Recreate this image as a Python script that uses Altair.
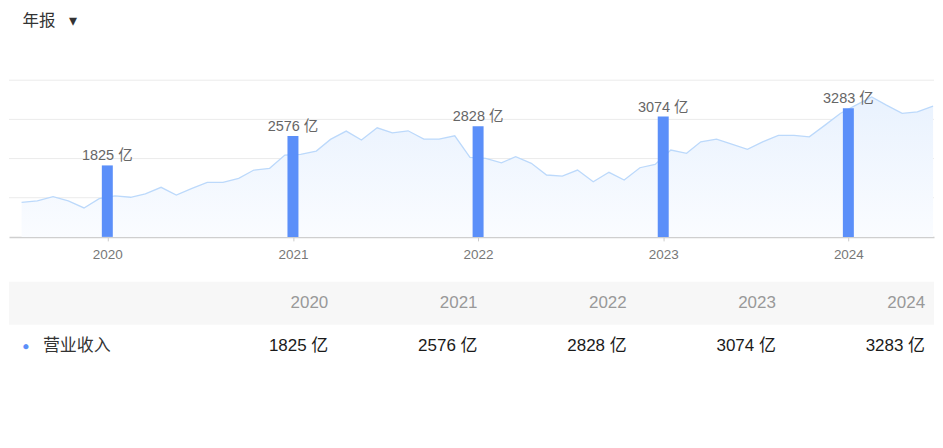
import altair as alt
import pandas as pd

# ---------------- data ----------------
years = [2020, 2021, 2022, 2023, 2024]
revenue = [1825, 2576, 2828, 3074, 3283]
unit = "亿"
series_name = "营业收入"
period_label = "年报\u00a0\u00a0\u00a0▾"
grid_values = [1000, 2000, 3000, 4000]

# monthly background trend (mid-month points, Jul 2019 .. Jun 2024)
line_first_month = "2019-07-01"
line_values = [
    884, 917, 1027, 917, 739, 975, 1045, 1012, 1096, 1266,
    1070, 1241, 1394, 1394, 1496, 1707, 1750, 2089, 2107, 2191,
    2489, 2701, 2472, 2785, 2658, 2709, 2497, 2497, 2581, 2031,
    2005, 1893, 2046, 1878, 1580, 1554, 1707, 1409, 1649, 1452,
    1766, 1852, 2217, 2133, 2428, 2497, 2370, 2235, 2428, 2591,
    2591, 2556, 2854, 3152, 3363, 3575, 3363, 3152, 3193, 3338,
]

FONT = "Liberation Sans, Noto Sans CJK SC, sans-serif"
W = 927
BLUE = "#5B8FF9"

bars_df = pd.DataFrame({
    "date": [f"{y}-01-01" for y in years],
    "revenue": revenue,
    "label": [f"{v} {unit}" for v in revenue],
})
months = pd.date_range(line_first_month, periods=len(line_values), freq="MS") + pd.Timedelta(days=15)
line_df = pd.DataFrame({"date": months.strftime("%Y-%m-%d"), "value": line_values})
grid_df = pd.DataFrame({"v": grid_values})

xscale = alt.Scale(
    type="utc",
    domain=[alt.DateTime(year=2019, month=7, date=1, utc=True),
            alt.DateTime(year=2024, month=6, date=8, utc=True)],
    nice=False,
)
yscale = alt.Scale(domain=[0, 4000], nice=False)

x_axis = alt.Axis(
    values=[alt.DateTime(year=y, month=1, date=1, utc=True) for y in years],
    format="%Y", formatType="utc", title=None, grid=False,
    labelColor="#777", labelFontSize=13.5, labelFont=FONT, labelPadding=7,
    tickColor="#ccc", tickSize=4, domainColor="#cfcfcf", domainWidth=1.5,
)

X = alt.X("date:T", scale=xscale, axis=x_axis)

grid = alt.Chart(grid_df).mark_rule(color="#ebebeb", strokeWidth=1).encode(
    y=alt.Y("v:Q", scale=yscale, axis=None)
)

area = alt.Chart(line_df).mark_area(
    interpolate="linear", clip=True,
    color=alt.Gradient(
        gradient="linear",
        stops=[alt.GradientStop(color="#fafcff", offset=0),
               alt.GradientStop(color="#e9f2fe", offset=1)],
        x1=1, x2=1, y1=1, y2=0,
    ),
).encode(x=X, y=alt.Y("value:Q", scale=yscale, axis=None))

line = alt.Chart(line_df).mark_line(color="#bcd9fb", strokeWidth=1.3, clip=True).encode(
    x=X, y=alt.Y("value:Q", scale=yscale, axis=None)
)

bars = alt.Chart(bars_df).mark_bar(color=BLUE, size=11).encode(
    x=X, y=alt.Y("revenue:Q", scale=yscale, axis=None)
)

bar_labels = alt.Chart(bars_df).mark_text(
    dy=-5, baseline="alphabetic", fontSize=14.5, color="#666", font=FONT
).encode(x=X, y=alt.Y("revenue:Q", scale=yscale, axis=None), text="label:N")

top = alt.layer(grid, area, line, bars, bar_labels).properties(
    width=W, height=157,
    title=alt.TitleParams(
        period_label, anchor="start", fontSize=16.5, fontWeight="normal",
        color="#333", font=FONT, dx=14, offset=50,
    ),
)

# ---------------- table ----------------
cols = ["label"] + [str(y) for y in years]
header_df = pd.DataFrame({"col": [str(y) for y in years], "row": "h", "text": [str(y) for y in years]})
value_df = pd.DataFrame({"col": [str(y) for y in years], "row": "r", "text": [f"{v} {unit}" for v in revenue]})
label_df = pd.DataFrame({"col": ["label"], "row": ["r"], "text": [series_name], "dot": ["●"]})

tx_scale = alt.Scale(type="band", domain=cols, paddingOuter=0.1, paddingInner=0)
ty_scale = alt.Scale(type="band", domain=["h", "r"], paddingInner=0, paddingOuter=0)
TY = alt.Y("row:N", scale=ty_scale, axis=None)

header_bg = alt.Chart(pd.DataFrame({"row": ["h"]})).mark_rect(color="#f7f7f7").encode(
    x=alt.value(0), x2=alt.value("width"), y=TY
)
header_txt = alt.Chart(header_df).mark_text(
    align="right", fontSize=17, color="#999", font=FONT, dx=6
).encode(x=alt.X("col:N", scale=tx_scale, axis=None, bandPosition=1), y=TY, text="text:N")
value_txt = alt.Chart(value_df).mark_text(
    align="right", fontSize=17, color="#1a1a1a", font=FONT, dx=6
).encode(x=alt.X("col:N", scale=tx_scale, axis=None, bandPosition=1), y=TY, text="text:N")
dot_txt = alt.Chart(label_df).mark_text(
    align="center", fontSize=12, color=BLUE, font=FONT, dx=2
).encode(x=alt.X("col:N", scale=tx_scale, axis=None, bandPosition=0), y=TY, text="dot:N")
name_txt = alt.Chart(label_df).mark_text(
    align="left", fontSize=17, color="#333", font=FONT, dx=19
).encode(x=alt.X("col:N", scale=tx_scale, axis=None, bandPosition=0), y=TY, text="text:N")

table = alt.layer(header_bg, header_txt, value_txt, dot_txt, name_txt).properties(width=W, height=86)

chart = alt.vconcat(top, table, spacing=20).properties(
    padding={"top": 5, "left": 0, "right": 0, "bottom": 0}
).configure(font=FONT, view=alt.ViewConfig(strokeWidth=0, stroke="transparent"))

chart.save("out.html", embed_options={"renderer": "svg", "actions": False})
